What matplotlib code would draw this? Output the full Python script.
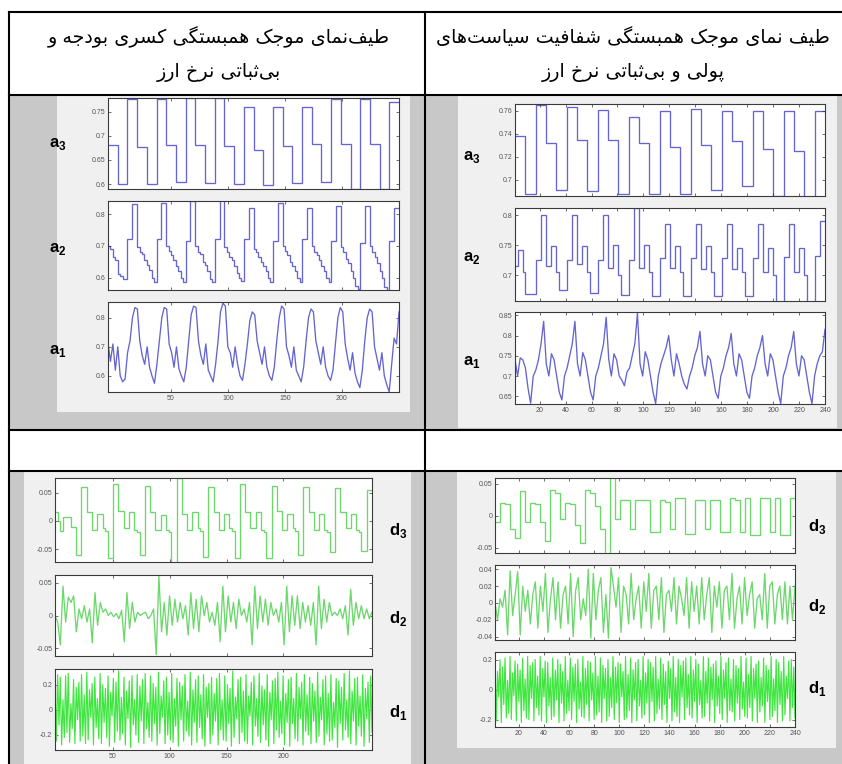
import numpy as np
import matplotlib
matplotlib.use('Agg')
import matplotlib.pyplot as plt
from matplotlib.patches import Rectangle
from matplotlib.lines import Line2D

plt.rcParams['font.family'] = ['Liberation Sans', 'DejaVu Sans']
plt.rcParams['mathtext.fontset'] = 'custom'
plt.rcParams['mathtext.bf'] = 'Liberation Sans:bold'
plt.rcParams['mathtext.rm'] = 'Liberation Sans'

# ---------------- header texts ----------------
HEAD_LEFT = ["طیف‌نمای موجک همبستگی کسری بودجه و", "بی‌ثباتی نرخ ارز"]
HEAD_RIGHT = ["طیف نمای موجک همبستگی شفافیت سیاست‌های", "پولی و بی‌ثباتی نرخ ارز"]

# ---------------- top-left panel (approximations a3, a2, a1) ----------------
TL_xticks = [50, 100, 150, 200]
TL_xticklabels = ["50", "100", "150", "200"]
TL_a3 = [0.680, 0.600, 0.776, 0.677, 0.600, 0.776, 0.680, 0.605, 0.778, 0.680,
         0.603, 0.778, 0.678, 0.600, 0.760, 0.670, 0.598, 0.760, 0.678, 0.603,
         0.760, 0.682, 0.605, 0.775, 0.683, 0.590, 0.775, 0.682, 0.590, 0.770]
TL_a3_ticks = [0.6, 0.65, 0.7, 0.75]
TL_a3_labels = ["0.6", "0.65", "0.7", "0.75"]
TL_a2 = [0.700, 0.690, 0.665, 0.655, 0.610, 0.605, 0.595, 0.595, 0.720, 0.720, 0.830, 0.830,
         0.695, 0.680, 0.675, 0.655, 0.640, 0.625, 0.600, 0.585, 0.720, 0.720, 0.835, 0.835,
         0.700, 0.685, 0.670, 0.655, 0.635, 0.620, 0.600, 0.585, 0.715, 0.715, 0.840, 0.840,
         0.700, 0.680, 0.675, 0.650, 0.640, 0.620, 0.595, 0.585, 0.720, 0.720, 0.845, 0.845,
         0.695, 0.680, 0.665, 0.655, 0.635, 0.615, 0.600, 0.590, 0.720, 0.720, 0.820, 0.820,
         0.690, 0.680, 0.665, 0.650, 0.635, 0.620, 0.600, 0.585, 0.715, 0.715, 0.835, 0.835,
         0.700, 0.685, 0.670, 0.650, 0.635, 0.620, 0.600, 0.585, 0.720, 0.720, 0.820, 0.820,
         0.700, 0.680, 0.670, 0.655, 0.635, 0.620, 0.600, 0.585, 0.715, 0.715, 0.825, 0.825,
         0.695, 0.680, 0.660, 0.645, 0.620, 0.600, 0.575, 0.565, 0.710, 0.710, 0.825, 0.825,
         0.700, 0.680, 0.665, 0.645, 0.620, 0.600, 0.570, 0.560, 0.715, 0.715, 0.820, 0.820]
TL_a2_ticks = [0.6, 0.7, 0.8]
TL_a2_labels = ["0.6", "0.7", "0.8"]
TL_a1 = [0.715, 0.650, 0.710, 0.620, 0.700, 0.600, 0.580, 0.590, 0.680, 0.720, 0.800, 0.835,
         0.830, 0.720, 0.670, 0.640, 0.700, 0.630, 0.600, 0.575, 0.640, 0.720, 0.800, 0.835,
         0.830, 0.710, 0.680, 0.630, 0.700, 0.625, 0.600, 0.580, 0.630, 0.720, 0.810, 0.840,
         0.835, 0.720, 0.670, 0.640, 0.710, 0.620, 0.600, 0.580, 0.640, 0.720, 0.820, 0.850,
         0.840, 0.700, 0.680, 0.630, 0.700, 0.640, 0.600, 0.585, 0.640, 0.710, 0.790, 0.820,
         0.810, 0.720, 0.680, 0.640, 0.700, 0.630, 0.600, 0.585, 0.630, 0.720, 0.800, 0.840,
         0.830, 0.700, 0.670, 0.630, 0.700, 0.620, 0.600, 0.580, 0.630, 0.720, 0.800, 0.830,
         0.820, 0.720, 0.680, 0.640, 0.700, 0.630, 0.600, 0.585, 0.620, 0.710, 0.800, 0.835,
         0.820, 0.710, 0.660, 0.620, 0.680, 0.610, 0.580, 0.560, 0.620, 0.720, 0.800, 0.830,
         0.820, 0.700, 0.660, 0.620, 0.680, 0.600, 0.570, 0.545, 0.640, 0.730, 0.710, 0.820]
TL_a1_ticks = [0.6, 0.7, 0.8]
TL_a1_labels = ["0.6", "0.7", "0.8"]

# ---------------- top-right panel (approximations a3, a2, a1) ----------------
TR_xticks = [20, 40, 60, 80, 100, 120, 140, 160, 180, 200, 220, 240]
TR_xticklabels = [str(v) for v in TR_xticks]
TR_a3 = [0.738, 0.688, 0.765, 0.732, 0.691, 0.763, 0.735, 0.690, 0.761, 0.735,
         0.688, 0.755, 0.732, 0.688, 0.760, 0.729, 0.688, 0.762, 0.730, 0.691,
         0.760, 0.734, 0.695, 0.760, 0.727, 0.686, 0.760, 0.725, 0.684, 0.760]
TR_a3_ticks = [0.70, 0.72, 0.74, 0.76]
TR_a3_labels = ["0.7", "0.72", "0.74", "0.76"]
TR_a2 = [0.715, 0.742, 0.742, 0.705, 0.668, 0.668, 0.668, 0.668, 0.725, 0.725, 0.800, 0.800,
         0.715, 0.715, 0.748, 0.748, 0.705, 0.675, 0.675, 0.675, 0.726, 0.726, 0.800, 0.800,
         0.718, 0.718, 0.748, 0.748, 0.705, 0.670, 0.670, 0.670, 0.725, 0.725, 0.800, 0.800,
         0.712, 0.712, 0.750, 0.750, 0.700, 0.667, 0.667, 0.667, 0.725, 0.725, 0.812, 0.812,
         0.712, 0.712, 0.750, 0.750, 0.705, 0.665, 0.665, 0.665, 0.728, 0.728, 0.785, 0.785,
         0.712, 0.712, 0.748, 0.748, 0.705, 0.665, 0.665, 0.665, 0.728, 0.728, 0.785, 0.785,
         0.710, 0.710, 0.748, 0.748, 0.705, 0.665, 0.665, 0.665, 0.728, 0.728, 0.785, 0.785,
         0.710, 0.710, 0.745, 0.745, 0.705, 0.665, 0.665, 0.665, 0.728, 0.728, 0.785, 0.785,
         0.705, 0.705, 0.745, 0.745, 0.700, 0.655, 0.655, 0.655, 0.730, 0.730, 0.785, 0.785,
         0.705, 0.705, 0.745, 0.745, 0.700, 0.655, 0.655, 0.655, 0.732, 0.732, 0.790, 0.790]
TR_a2_ticks = [0.70, 0.75, 0.80]
TR_a2_labels = ["0.7", "0.75", "0.8"]
TR_a1 = [0.740, 0.700, 0.745, 0.740, 0.720, 0.670, 0.633, 0.700, 0.715, 0.740, 0.780, 0.835,
         0.730, 0.700, 0.755, 0.740, 0.700, 0.660, 0.641, 0.700, 0.720, 0.750, 0.780, 0.835,
         0.730, 0.700, 0.758, 0.740, 0.700, 0.660, 0.641, 0.700, 0.720, 0.750, 0.780, 0.845,
         0.740, 0.700, 0.755, 0.740, 0.700, 0.690, 0.676, 0.710, 0.720, 0.750, 0.780, 0.855,
         0.730, 0.700, 0.760, 0.740, 0.700, 0.660, 0.632, 0.700, 0.730, 0.750, 0.770, 0.800,
         0.740, 0.700, 0.755, 0.730, 0.700, 0.680, 0.668, 0.700, 0.720, 0.750, 0.770, 0.810,
         0.730, 0.700, 0.750, 0.740, 0.700, 0.660, 0.645, 0.700, 0.720, 0.750, 0.770, 0.805,
         0.730, 0.700, 0.755, 0.740, 0.700, 0.660, 0.645, 0.700, 0.720, 0.750, 0.770, 0.800,
         0.730, 0.700, 0.755, 0.740, 0.700, 0.660, 0.632, 0.700, 0.720, 0.750, 0.770, 0.810,
         0.730, 0.700, 0.750, 0.740, 0.700, 0.660, 0.632, 0.700, 0.730, 0.750, 0.760, 0.815]
TR_a1_ticks = [0.65, 0.70, 0.75, 0.80, 0.85]
TR_a1_labels = ["0.65", "0.7", "0.75", "0.8", "0.85"]

# ---------------- bottom-left panel (details d3, d2, d1) ----------------
BL_xticks = [50, 100, 150, 200]
BL_xticklabels = ["50", "100", "150", "200"]
BL_d3 = [0.015, 0.000, -0.018, 0.007, 0.007, 0.007, -0.010, -0.010, -0.060, -0.060, 0.060, 0.060,
         0.015, 0.015, -0.015, -0.015, 0.012, 0.012, -0.013, -0.018, -0.065, -0.065, 0.065, 0.065,
         0.018, 0.018, -0.012, -0.012, 0.015, 0.015, -0.015, -0.020, -0.060, -0.060, 0.062, 0.062,
         0.015, 0.015, -0.015, -0.015, 0.010, 0.010, -0.015, -0.020, -0.075, -0.075, 0.075, 0.075,
         0.012, 0.012, -0.015, -0.015, 0.015, 0.015, -0.012, -0.018, -0.063, -0.063, 0.060, 0.060,
         0.015, 0.015, -0.015, -0.015, 0.012, 0.012, -0.012, -0.018, -0.065, -0.065, 0.065, 0.065,
         0.015, 0.015, -0.012, -0.012, 0.015, 0.015, -0.015, -0.020, -0.065, -0.065, 0.062, 0.062,
         0.018, 0.018, -0.015, -0.015, 0.012, 0.012, -0.012, -0.018, -0.060, -0.060, 0.060, 0.060,
         0.015, 0.015, -0.015, -0.015, 0.012, 0.012, -0.015, -0.020, -0.055, -0.055, 0.058, 0.058,
         0.015, 0.015, -0.012, -0.012, 0.012, 0.012, -0.015, -0.020, -0.052, -0.052, 0.055, 0.055]
BL_d3_ticks = [-0.05, 0.0, 0.05]
BL_d3_labels = ["-0.05", "0", "0.05"]
BL_d2 = [0.000, -0.010, -0.045, 0.045, -0.010, 0.028, 0.020, 0.030, -0.025, 0.010, -0.005, 0.015,
         -0.010, 0.010, -0.042, 0.035, -0.015, 0.020, 0.005, 0.010, 0.000, 0.005, -0.002, 0.003,
         -0.005, 0.008, -0.040, 0.035, -0.020, 0.020, -0.010, 0.005, 0.000, 0.003, 0.005, -0.005,
         0.000, 0.010, -0.060, 0.060, -0.025, 0.020, -0.030, 0.030, -0.015, 0.025, -0.010, 0.020,
         -0.005, 0.015, -0.030, 0.035, -0.020, 0.025, -0.025, 0.030, 0.000, 0.020, -0.010, 0.005,
         -0.015, 0.020, -0.040, 0.045, -0.025, 0.030, -0.010, 0.020, -0.020, 0.025, 0.000, 0.010,
         -0.010, 0.020, -0.045, 0.045, -0.020, 0.030, -0.010, 0.025, -0.015, 0.020, 0.000, 0.010,
         -0.010, 0.020, -0.045, 0.045, -0.025, 0.030, -0.015, 0.030, -0.020, 0.020, -0.010, 0.015,
         -0.015, 0.020, -0.045, 0.045, -0.020, 0.025, -0.010, 0.020, 0.000, 0.005, 0.000, 0.010,
         -0.005, 0.015, -0.030, 0.040, -0.015, 0.020, -0.005, 0.015, -0.005, 0.010, -0.005, 0.005]
BL_d2_ticks = [-0.05, 0.0, 0.05]
BL_d2_labels = ["-0.05", "0", "0.05"]
BL_d1 = [0.22, -0.25, 0.28, -0.12, 0.26, -0.28, 0.08, -0.22, 0.27, -0.18, 0.29, -0.26, 0.05, -0.15, 0.24, -0.27, 0.18, -0.08, 0.22, -0.25,
         0.28, -0.21, 0.12, -0.27, 0.30, -0.24, 0.16, -0.06, 0.21, -0.28, 0.26, -0.14, 0.09, -0.23, 0.29, -0.27, 0.20, -0.10, 0.17, -0.22,
         0.27, -0.29, 0.14, -0.05, 0.25, -0.26, 0.22, -0.17, 0.31, -0.24, 0.10, -0.19, 0.26, -0.28, 0.15, -0.07, 0.23, -0.30, 0.27, -0.12,
         0.08, -0.20, 0.28, -0.26, 0.19, -0.09, 0.24, -0.27, 0.29, -0.15, 0.06, -0.22, 0.27, -0.25, 0.21, -0.11, 0.18, -0.28, 0.30, -0.19,
         0.11, -0.06, 0.23, -0.27, 0.26, -0.20, 0.14, -0.24, 0.29, -0.26, 0.09, -0.13, 0.25, -0.29, 0.22, -0.08, 0.19, -0.25, 0.28, -0.17,
         0.07, -0.21, 0.30, -0.28, 0.16, -0.10, 0.24, -0.26, 0.27, -0.14, 0.12, -0.23, 0.28, -0.29, 0.18, -0.06, 0.21, -0.27, 0.26, -0.20,
         0.13, -0.09, 0.25, -0.28, 0.29, -0.16, 0.08, -0.24, 0.27, -0.25, 0.20, -0.11, 0.17, -0.29, 0.31, -0.22, 0.10, -0.07, 0.24, -0.27,
         0.26, -0.18, 0.15, -0.25, 0.28, -0.27, 0.11, -0.05, 0.22, -0.28, 0.27, -0.13, 0.09, -0.21, 0.29, -0.26, 0.19, -0.12, 0.16, -0.24,
         0.28, -0.29, 0.14, -0.08, 0.23, -0.27, 0.25, -0.16, 0.30, -0.22, 0.07, -0.19, 0.27, -0.28, 0.13, -0.10, 0.24, -0.29, 0.26, -0.11,
         0.09, -0.23, 0.29, -0.25, 0.18, -0.07, 0.22, -0.28, 0.28, -0.17, 0.12, -0.20, 0.26, -0.27, 0.21, -0.09, 0.15, -0.26, 0.30, -0.21,
         0.10, -0.08, 0.24, -0.28, 0.27, -0.19, 0.13, -0.25, 0.28, -0.24, 0.06, -0.14, 0.25, -0.30, 0.23, -0.11, 0.18, -0.24, 0.29, -0.16,
         0.08, -0.22, 0.31, -0.27, 0.15, -0.09, 0.25, -0.28, 0.26, -0.13, 0.11, -0.21, 0.28, -0.29, 0.17, -0.07, 0.22, -0.26, 0.27, -0.18]
BL_d1_ticks = [-0.2, 0.0, 0.2]
BL_d1_labels = ["-0.2", "0", "0.2"]

# ---------------- bottom-right panel (details d3, d2, d1) ----------------
BR_xticks = [20, 40, 60, 80, 100, 120, 140, 160, 180, 200, 220, 240]
BR_xticklabels = [str(v) for v in BR_xticks]
BR_d3 = [-0.010, 0.020, 0.018, -0.020, -0.035, 0.038, -0.010, 0.020, 0.018, -0.010,
         -0.040, 0.040, 0.035, -0.005, 0.020, 0.018, -0.015, -0.042, 0.040, 0.035,
         0.015, -0.020, -0.060, 0.060, -0.005, 0.025, 0.025, -0.020, 0.025, 0.025,
         0.025, -0.025, -0.025, 0.025, 0.022, -0.020, 0.028, 0.028, -0.028, -0.028,
         0.025, 0.025, -0.020, 0.025, 0.025, -0.025, -0.025, 0.028, 0.025, -0.025,
         0.028, -0.030, -0.030, 0.028, 0.028, -0.025, 0.028, -0.030, -0.030, 0.028]
BR_d3_ticks = [-0.05, 0.0, 0.05]
BR_d3_labels = ["-0.05", "0", "0.05"]
BR_d2 = [0.000, -0.020, 0.005, -0.005, 0.015, -0.038, 0.038, -0.015, 0.010, 0.037, -0.038, 0.020,
         -0.010, 0.015, -0.025, 0.010, 0.025, -0.030, 0.020, -0.010, 0.035, -0.035, 0.005, 0.030,
         -0.020, 0.025, -0.030, 0.010, 0.020, -0.025, 0.035, -0.040, 0.015, 0.030, -0.020, 0.005,
         -0.015, 0.040, -0.042, 0.035, -0.020, 0.015, 0.030, -0.035, 0.010, -0.042, 0.042, 0.020,
         -0.005, 0.030, -0.035, 0.020, 0.010, -0.025, 0.035, -0.020, 0.005, 0.020, -0.030, 0.025,
         -0.010, 0.035, -0.030, 0.015, 0.020, -0.020, 0.030, -0.035, 0.010, 0.015, -0.010, 0.030,
         -0.025, 0.020, 0.005, -0.015, 0.030, -0.030, 0.025, -0.010, 0.020, -0.025, 0.030, -0.020,
         0.010, 0.030, -0.035, 0.020, -0.005, 0.025, -0.030, 0.015, 0.020, -0.020, 0.035, -0.030,
         0.005, 0.020, -0.025, 0.030, -0.015, 0.010, 0.025, -0.030, 0.005, 0.010, -0.020, 0.035,
         -0.030, 0.020, 0.025, -0.025, 0.010, 0.020, -0.020, 0.025, -0.025, 0.020, -0.020, 0.020]
BR_d2_ticks = [-0.04, -0.02, 0.0, 0.02, 0.04]
BR_d2_labels = ["-0.04", "-0.02", "0", "0.02", "0.04"]
BR_d1 = [0.18, -0.21, 0.12, -0.05, 0.20, -0.22, 0.15, -0.10, 0.21, -0.19, 0.06, -0.16, 0.22, -0.20, 0.11, -0.04, 0.19, -0.21, 0.17, -0.08,
         0.13, -0.22, 0.21, -0.14, 0.07, -0.19, 0.22, -0.20, 0.16, -0.06, 0.18, -0.21, 0.20, -0.12, 0.09, -0.17, 0.22, -0.21, 0.14, -0.05,
         0.19, -0.22, 0.18, -0.11, 0.08, -0.20, 0.21, -0.18, 0.13, -0.07, 0.20, -0.22, 0.17, -0.09, 0.12, -0.21, 0.22, -0.16, 0.06, -0.14,
         0.21, -0.20, 0.15, -0.08, 0.17, -0.22, 0.20, -0.13, 0.05, -0.18, 0.22, -0.19, 0.14, -0.10, 0.19, -0.21, 0.18, -0.07, 0.11, -0.20,
         0.22, -0.17, 0.09, -0.15, 0.21, -0.22, 0.16, -0.06, 0.14, -0.21, 0.20, -0.18, 0.08, -0.12, 0.22, -0.20, 0.15, -0.09, 0.18, -0.22,
         0.17, -0.05, 0.12, -0.20, 0.22, -0.19, 0.10, -0.14, 0.21, -0.22, 0.13, -0.07, 0.18, -0.21, 0.20, -0.11, 0.06, -0.19, 0.22, -0.17,
         0.11, -0.09, 0.20, -0.22, 0.18, -0.08, 0.15, -0.21, 0.22, -0.16, 0.07, -0.13, 0.21, -0.20, 0.17, -0.10, 0.12, -0.22, 0.19, -0.06,
         0.14, -0.21, 0.22, -0.15, 0.08, -0.18, 0.20, -0.22, 0.16, -0.05, 0.19, -0.20, 0.21, -0.12, 0.10, -0.17, 0.22, -0.19, 0.13, -0.08,
         0.20, -0.22, 0.17, -0.10, 0.06, -0.19, 0.22, -0.18, 0.12, -0.09, 0.21, -0.21, 0.15, -0.07, 0.17, -0.22, 0.19, -0.11, 0.09, -0.16,
         0.22, -0.20, 0.13, -0.06, 0.18, -0.22, 0.21, -0.14, 0.07, -0.15, 0.20, -0.21, 0.16, -0.09, 0.14, -0.20, 0.22, -0.13, 0.05, -0.18,
         0.21, -0.19, 0.10, -0.12, 0.22, -0.21, 0.14, -0.06, 0.17, -0.22, 0.19, -0.15, 0.08, -0.11, 0.21, -0.22, 0.16, -0.08, 0.13, -0.20,
         0.22, -0.18, 0.07, -0.14, 0.20, -0.22, 0.18, -0.10, 0.12, -0.21, 0.22, -0.17, 0.09, -0.06, 0.19, -0.21, 0.20, -0.12, 0.15, -0.19]
BR_d1_ticks = [-0.2, 0.0, 0.2]
BR_d1_labels = ["-0.2", "0", "0.2"]

# ---------------- Persian shaping (presentation forms, visual order) ----------------
FORMS = {
    '\u0627': ('\uFE8D', '\uFE8E'),
    '\u0628': ('\uFE8F', '\uFE90', '\uFE91', '\uFE92'),
    '\u067E': ('\uFB56', '\uFB57', '\uFB58', '\uFB59'),
    '\u062A': ('\uFE95', '\uFE96', '\uFE97', '\uFE98'),
    '\u062B': ('\uFE99', '\uFE9A', '\uFE9B', '\uFE9C'),
    '\u062C': ('\uFE9D', '\uFE9E', '\uFE9F', '\uFEA0'),
    '\u062E': ('\uFEA5', '\uFEA6', '\uFEA7', '\uFEA8'),
    '\u062F': ('\uFEA9', '\uFEAA'),
    '\u0631': ('\uFEAD', '\uFEAE'),
    '\u0632': ('\uFEAF', '\uFEB0'),
    '\u0633': ('\uFEB1', '\uFEB2', '\uFEB3', '\uFEB4'),
    '\u0634': ('\uFEB5', '\uFEB6', '\uFEB7', '\uFEB8'),
    '\u0637': ('\uFEC1', '\uFEC2', '\uFEC3', '\uFEC4'),
    '\u0641': ('\uFED1', '\uFED2', '\uFED3', '\uFED4'),
    '\u0644': ('\uFEDD', '\uFEDE', '\uFEDF', '\uFEE0'),
    '\u0645': ('\uFEE1', '\uFEE2', '\uFEE3', '\uFEE4'),
    '\u0646': ('\uFEE5', '\uFEE6', '\uFEE7', '\uFEE8'),
    '\u0647': ('\uFEE9', '\uFEEA', '\uFEEB', '\uFEEC'),
    '\u0648': ('\uFEED', '\uFEEE'),
    '\u06CC': ('\uFBFC', '\uFBFD', '\uFBFE', '\uFBFF'),
    '\u06A9': ('\uFB8E', '\uFB8F', '\uFB90', '\uFB91'),
    '\u06AF': ('\uFB92', '\uFB93', '\uFB94', '\uFB95'),
}


def shape(s):
    s = s.replace('\u064A', '\u06CC').replace('\u0643', '\u06A9')
    out = []
    n = len(s)
    for i, c in enumerate(s):
        if c not in FORMS:
            if c != '\u200c':
                out.append(c)
            continue
        prev = s[i - 1] if i > 0 else None
        nxt = s[i + 1] if i + 1 < n else None
        dual = len(FORMS[c]) == 4
        jp = prev in FORMS and len(FORMS[prev]) == 4
        jn = dual and nxt in FORMS
        f = FORMS[c]
        if jp and jn:
            g = f[3]
        elif jp:
            g = f[1]
        elif jn:
            g = f[2]
        else:
            g = f[0]
        out.append(g)
    return ''.join(reversed(out))


# ---------------- figure ----------------
W, H = 842, 764
fig = plt.figure(figsize=(W / 100, H / 100), dpi=100)
fig.patch.set_facecolor('white')


def rect(x0, y0, x1, y1, color):
    fig.add_artist(Rectangle((x0 / W, 1 - y1 / H), (x1 - x0) / W, (y1 - y0) / H,
                             transform=fig.transFigure, facecolor=color,
                             edgecolor='none', zorder=-5))


def line(x0, y0, x1, y1):
    fig.add_artist(Line2D([x0 / W, x1 / W], [1 - y0 / H, 1 - y1 / H],
                          transform=fig.transFigure, color='black', lw=1.5,
                          zorder=20, solid_capstyle='projecting'))


def add_ax(x0, y0, x1, y1):
    return fig.add_axes([x0 / W, 1 - y1 / H, (x1 - x0) / W, (y1 - y0) / H])


GRAY = '#c8c8c8'
PANEL = '#f0f0f0'
# cell backgrounds
rect(10, 95, 425, 430, GRAY)
rect(425, 95, 842, 430, GRAY)
rect(10, 471, 425, 764, GRAY)
rect(425, 471, 842, 764, GRAY)
# screenshot backgrounds
rect(57, 96, 410, 412, PANEL)
rect(458, 96, 837, 428, PANEL)
rect(24, 472, 411, 764, PANEL)
rect(457, 472, 836, 748, PANEL)

# table rules
line(9, 12, 842, 12)
line(9, 95, 842, 95)
line(9, 430, 842, 430)
line(9, 471, 842, 471)
line(9, 12, 9, 764)
line(425, 12, 425, 764)

# header text
for txt, y in zip(HEAD_LEFT, [37, 73]):
    fig.text(219 / W, 1 - y / H, shape(txt), ha='center', va='center',
             fontsize=13.8, family=['DejaVu Sans'], color='black')
for txt, y in zip(HEAD_RIGHT, [37, 73]):
    fig.text(633 / W, 1 - y / H, shape(txt), ha='center', va='center',
             fontsize=13.8, family=['DejaVu Sans'], color='black')

BLUE = '#6464d2'
GREEN = '#6cd86c'
GREEN1 = '#40e640'


def style(ax, xlim, ylim, xticks, xlabels, show_x, yticks, ylabels):
    ax.set_facecolor('white')
    ax.set_xlim(xlim)
    ax.set_ylim(ylim)
    ax.set_xticks(xticks)
    ax.set_xticklabels(xlabels if show_x else [])
    ax.set_yticks(yticks)
    ax.set_yticklabels(ylabels)
    ax.tick_params(direction='in', length=2.5, width=0.5, top=True, right=True,
                   labelsize=5, labelcolor='#555555', color='#333333', pad=2)
    for s in ax.spines.values():
        s.set_linewidth(0.8)
        s.set_color('#3a3a3a')


def label(x, y, base, sub):
    fig.text(x / W, 1 - y / H, r'$\mathbf{%s}_{\mathbf{%s}}$' % (base, sub),
             ha='center', va='center', fontsize=12, color='black')


def draw_steps(ax, vals, xlim, color):
    edges = np.linspace(xlim[0], xlim[1], len(vals) + 1)
    ax.stairs(vals, edges, baseline=None, color=color, lw=0.95)


def draw_line(ax, vals, xlim, color, lw=0.95):
    xs = np.linspace(xlim[0], xlim[1], len(vals))
    ax.plot(xs, vals, color=color, lw=lw)


# ----- top-left -----
TLX = (-5, 250)
ax = add_ax(108, 98, 399, 189)
draw_steps(ax, TL_a3, TLX, BLUE)
style(ax, TLX, (0.590, 0.778), TL_xticks, TL_xticklabels, False, TL_a3_ticks, TL_a3_labels)
ax = add_ax(108, 201, 399, 290)
draw_steps(ax, TL_a2, TLX, BLUE)
style(ax, TLX, (0.561, 0.841), TL_xticks, TL_xticklabels, False, TL_a2_ticks, TL_a2_labels)
ax = add_ax(108, 302, 399, 392)
draw_line(ax, TL_a1, TLX, BLUE)
style(ax, TLX, (0.545, 0.854), TL_xticks, TL_xticklabels, True, TL_a1_ticks, TL_a1_labels)
label(58, 144, 'a', '3')
label(58, 249, 'a', '2')
label(58, 351, 'a', '1')

# ----- top-right -----
TRX = (1, 240)
ax = add_ax(515, 104, 825, 196)
draw_steps(ax, TR_a3, TRX, BLUE)
style(ax, TRX, (0.686, 0.766), TR_xticks, TR_xticklabels, False, TR_a3_ticks, TR_a3_labels)
ax = add_ax(515, 208, 825, 301)
draw_steps(ax, TR_a2, TRX, BLUE)
style(ax, TRX, (0.657, 0.812), TR_xticks, TR_xticklabels, False, TR_a2_ticks, TR_a2_labels)
ax = add_ax(515, 312, 825, 404)
draw_line(ax, TR_a1, TRX, BLUE)
style(ax, TRX, (0.631, 0.858), TR_xticks, TR_xticklabels, True, TR_a1_ticks, TR_a1_labels)
label(472, 157, 'a', '3')
label(472, 258, 'a', '2')
label(472, 362, 'a', '1')

# ----- bottom-left -----
BLX = (-1, 278)
ax = add_ax(55, 478, 372, 562)
draw_steps(ax, BL_d3, BLX, GREEN)
style(ax, BLX, (-0.072, 0.0755), BL_xticks, BL_xticklabels, False, BL_d3_ticks, BL_d3_labels)
ax = add_ax(55, 575, 372, 656)
draw_line(ax, BL_d2, BLX, GREEN)
style(ax, BLX, (-0.062, 0.062), BL_xticks, BL_xticklabels, False, BL_d2_ticks, BL_d2_labels)
ax = add_ax(55, 669, 372, 750)
draw_line(ax, BL_d1, BLX, GREEN1, lw=0.85)
style(ax, BLX, (-0.32, 0.325), BL_xticks, BL_xticklabels, True, BL_d1_ticks, BL_d1_labels)
label(398, 530, 'd', '3')
label(398, 618, 'd', '2')
label(398, 713, 'd', '1')

# ----- bottom-right -----
BRX = (1, 240)
ax = add_ax(495, 478, 795, 553)
draw_steps(ax, BR_d3, BRX, GREEN)
style(ax, BRX, (-0.058, 0.059), BR_xticks, BR_xticklabels, False, BR_d3_ticks, BR_d3_labels)
ax = add_ax(495, 565, 795, 640)
draw_line(ax, BR_d2, BRX, GREEN)
style(ax, BRX, (-0.044, 0.045), BR_xticks, BR_xticklabels, False, BR_d2_ticks, BR_d2_labels)
ax = add_ax(495, 652, 795, 727)
draw_line(ax, BR_d1, BRX, GREEN1, lw=0.85)
style(ax, BRX, (-0.25, 0.25), BR_xticks, BR_xticklabels, True, BR_d1_ticks, BR_d1_labels)
label(817, 527, 'd', '3')
label(817, 606, 'd', '2')
label(817, 689, 'd', '1')

fig.savefig('out.png', dpi=100, facecolor='white')
